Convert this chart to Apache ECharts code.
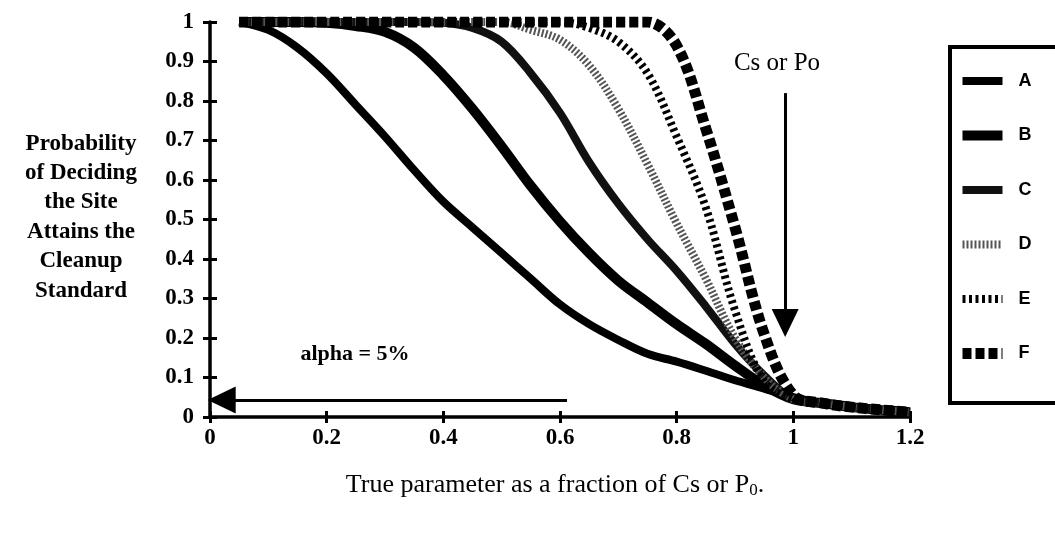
<!DOCTYPE html>
<html>
<head>
<meta charset="utf-8">
<script src="https://cdn.jsdelivr.net/npm/echarts@6/dist/echarts.min.js"></script>
<style>html,body{margin:0;padding:0;background:#fff;}#c{width:1055px;height:536px;}</style>
</head>
<body>
<div id="c"></div>
<script>
// ---- data ----
const xValues = [0.05,0.1,0.15,0.2,0.25,0.3,0.35,0.4,0.45,0.5,0.55,0.6,0.65,0.7,0.75,0.8,0.85,0.9,0.95,1.0,1.05,1.1,1.15,1.2];
const seriesNames = ['A','B','C','D','E','F'];
const valuesA = [1.0,0.98,0.935,0.87,0.79,0.71,0.625,0.545,0.48,0.415,0.35,0.285,0.235,0.195,0.16,0.14,0.117,0.093,0.072,0.05,0.035,0.025,0.018,0.012];
const valuesB = [1.0,1.0,1.0,0.998,0.99,0.975,0.935,0.865,0.78,0.685,0.585,0.495,0.415,0.345,0.29,0.235,0.185,0.13,0.08,0.045,0.035,0.025,0.018,0.012];
const valuesC = [1.0,1.0,1.0,1.0,1.0,1.0,1.0,0.998,0.985,0.95,0.87,0.77,0.645,0.54,0.45,0.37,0.28,0.185,0.105,0.045,0.035,0.025,0.018,0.012];
const valuesD = [1.0,1.0,1.0,1.0,1.0,1.0,1.0,1.0,1.0,1.0,0.98,0.955,0.89,0.78,0.64,0.49,0.35,0.2,0.1,0.045,0.035,0.025,0.018,0.012];
const valuesE = [1.0,1.0,1.0,1.0,1.0,1.0,1.0,1.0,1.0,1.0,1.0,1.0,0.985,0.95,0.87,0.71,0.53,0.27,0.09,0.045,0.035,0.025,0.018,0.012];
const valuesF = [1.0,1.0,1.0,1.0,1.0,1.0,1.0,1.0,1.0,1.0,1.0,1.0,1.0,1.0,1.0,0.94,0.73,0.48,0.21,0.055,0.035,0.025,0.018,0.012];
const xTicks = ['0','0.2','0.4','0.6','0.8','1','1.2'];
const yTicks = ['0','0.1','0.2','0.3','0.4','0.5','0.6','0.7','0.8','0.9','1'];
const alphaArrow = [[0.612,0.043],[0.02,0.043]];
const csArrow = [[0.986,0.82],[0.986,0.238]];

const allValues = [valuesA,valuesB,valuesC,valuesD,valuesE,valuesF];
const styles = [
  {color:'#000', width:8, type:'solid'},
  {color:'#000', width:10, type:'solid'},
  {color:'#111', width:8, type:'solid'},
  {color:'#555', width:8, type:[2,2]},
  {color:'#000', width:8, type:[3,3.5]},
  {color:'#000', width:11, type:[9,4]}
];

const serif = '"Liberation Serif", "Times New Roman", serif';
const sans = '"Liberation Sans", Arial, sans-serif';

const series = seriesNames.map((n,i)=>({
  name:n, type:'line', xAxisIndex:0, yAxisIndex:0,
  data: xValues.map((x,k)=>[x, allValues[i][k]]),
  showSymbol:false, symbol:'none', smooth:0.35,
  lineStyle: styles[i], itemStyle:{color:styles[i].color},
  z: 2+i, silent:true, animation:false
}));

series.push({
  type:'line', data:[], xAxisIndex:0, yAxisIndex:0, silent:true, animation:false,
  markLine:{
    silent:true, animation:false,
    symbol:['none','triangle'], symbolSize:[27,28],
    label:{show:false},
    lineStyle:{color:'#000', width:3, type:'solid'},
    data:[
      [{coord:alphaArrow[0]},{coord:alphaArrow[1]}],
      [{coord:csArrow[0]},{coord:csArrow[1]}]
    ]
  }
});

const tickLabelStyle = {color:'#000', fontFamily:serif, fontWeight:'bold', fontSize:23};

const legendData = seriesNames.map((n,i)=>({
  name:n,
  lineStyle:{color:styles[i].color, width:styles[i].width, type:styles[i].type, opacity:1},
  itemStyle:{color:'rgba(0,0,0,0)', borderColor:'rgba(0,0,0,0)', borderWidth:0, opacity:0}
}));

const option = {
  backgroundColor:'#fff',
  animation:false,
  grid:{left:210, right:145, top:22, bottom:119},
  xAxis:[
    {type:'value', min:0, max:1.2, interval:0.2,
     axisLine:{show:true, lineStyle:{color:'#000', width:3.5}},
     axisTick:{show:true, inside:false, length:6, lineStyle:{color:'#000', width:3}},
     axisLabel:{...tickLabelStyle, margin:10, formatter:(v)=>xTicks[Math.round(v/0.2)]},
     splitLine:{show:false}},
    {type:'value', min:0, max:1.2, interval:0.2, position:'bottom',
     axisLine:{show:false},
     axisTick:{show:true, inside:true, length:6, lineStyle:{color:'#000', width:3}},
     axisLabel:{show:false}, splitLine:{show:false}}
  ],
  yAxis:[
    {type:'value', min:0, max:1, interval:0.1,
     axisLine:{show:true, lineStyle:{color:'#000', width:3.5}},
     axisTick:{show:true, inside:false, length:7, lineStyle:{color:'#000', width:3}},
     axisLabel:{...tickLabelStyle, margin:16, formatter:(v)=>yTicks[Math.round(v*10)]},
     splitLine:{show:false}},
    {type:'value', min:0, max:1, interval:0.1, position:'left',
     axisLine:{show:false},
     axisTick:{show:true, inside:true, length:7, lineStyle:{color:'#000', width:3}},
     axisLabel:{show:false}, splitLine:{show:false}}
  ],
  legend:{
    orient:'vertical', left:952, top:67,
    itemWidth:40, itemHeight:14, itemGap:36.5,
    data:legendData,
    itemStyle:{color:'rgba(0,0,0,0)', borderColor:'rgba(0,0,0,0)', borderWidth:0, opacity:0},
    textStyle:{color:'#000', fontFamily:sans, fontWeight:'bold', fontSize:18, padding:[0,0,0,11]},
    selectedMode:false
  },
  graphic:[
    {type:'rect', silent:true, shape:{x:950, y:47, width:200, height:356},
     style:{fill:'none', stroke:'#000', lineWidth:4}},
    {type:'text', silent:true, style:{text:'Probability\nof Deciding\nthe Site\nAttains the\nCleanup\nStandard',
      x:81, y:129, align:'center', verticalAlign:'top', lineHeight:29.4,
      font:'bold 23px '+serif, fill:'#000'}},
    {type:'text', silent:true, style:{
      text:'{a|True parameter as a fraction of Cs or P}{s|0}{a|.}',
      x:555, y:485, align:'center', verticalAlign:'middle',
      rich:{
        a:{fontFamily:serif, fontSize:26, fill:'#000', color:'#000', verticalAlign:'middle'},
        s:{fontFamily:serif, fontSize:17, fill:'#000', color:'#000', padding:[12,0,0,0]}
      }}},
    {type:'text', silent:true, style:{text:'alpha = 5%', x:355, y:354, align:'center', verticalAlign:'middle', font:'bold 22px '+serif, fill:'#000'}},
    {type:'text', silent:true, style:{text:'Cs or Po', x:777, y:63, align:'center', verticalAlign:'middle', font:'25px '+serif, fill:'#000'}}
  ],
  series:series
};

const chart = echarts.init(document.getElementById('c'), null, {renderer:'canvas'});
chart.setOption(option);
</script>
</body>
</html>
